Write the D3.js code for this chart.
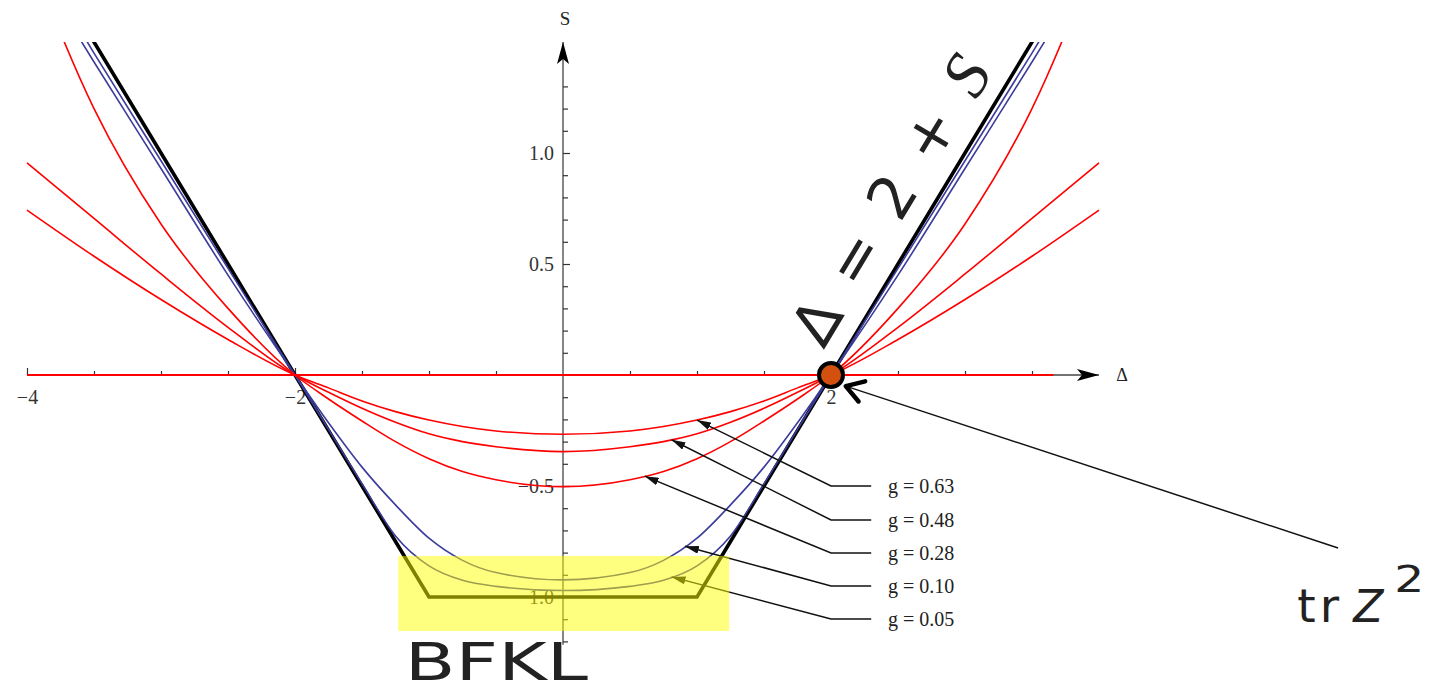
<!DOCTYPE html>
<html>
<head>
<meta charset="utf-8">
<script src="https://cdn.jsdelivr.net/npm/d3@7"></script>
<style>
  html, body { margin: 0; padding: 0; background: #fff; }
  svg { display: block; }
</style>
</head>
<body>
<svg id="chart" width="1447" height="692"></svg>
<script>
// Δ sample grid shared by every S(Δ) series
const delta = [-4, -3.5, -3, -2.5, -2, -1.75, -1.5, -1.25, -1, -0.75, -0.5, 0,
               0.5, 0.75, 1, 1.25, 1.5, 1.75, 2, 2.5, 3, 3.5, 4];

// S(Δ) at several couplings
const sG063 = [0.743, 0.535, 0.34, 0.16, 0, -0.058, -0.117, -0.165, -0.203, -0.232, -0.252, -0.267,
               -0.252, -0.232, -0.203, -0.165, -0.117, -0.058, 0, 0.16, 0.34, 0.535, 0.743];
const sG048 = [0.955, 0.705, 0.455, 0.215, 0, -0.078, -0.15, -0.213, -0.265, -0.3, -0.323, -0.345,
               -0.323, -0.3, -0.265, -0.213, -0.15, -0.078, 0, 0.215, 0.455, 0.705, 0.955];
const sG028 = [1.92, 1.2, 0.68, 0.3, 0, -0.108, -0.207, -0.3, -0.377, -0.435, -0.472, -0.503,
               -0.472, -0.435, -0.377, -0.3, -0.207, -0.108, 0, 0.3, 0.68, 1.2, 1.92];
const sG010 = [1.9, 1.41, 0.93, 0.45, 0, -0.215, -0.415, -0.585, -0.735, -0.835, -0.89, -0.923,
               -0.89, -0.835, -0.735, -0.585, -0.415, -0.215, 0, 0.45, 0.93, 1.41, 1.9];
const sG005 = [1.95, 1.45, 0.965, 0.48, 0, -0.245, -0.49, -0.725, -0.86, -0.925, -0.952, -0.971,
               -0.952, -0.925, -0.86, -0.725, -0.49, -0.245, 0, 0.48, 0.965, 1.45, 1.95];
// BFKL / weak-coupling limit: S = |Δ| - 2, floored at -1
const sBFKL = [2, 1.5, 1, 0.5, 0, -0.25, -0.5, -0.75, -1, -1, -1, -1,
               -1, -1, -1, -0.75, -0.5, -0.25, 0, 0.5, 1, 1.5, 2];
// flat S = 0 branch
const zeroDelta = [-4, 3.66];
const zeroS = [0, 0];

// axis ticks
const xTickValues = d3.range(-4, 4, 0.5).filter(v => v !== 0);
const xLabelValues = [-4, -2, 2];
const xLabelTexts = ["−4", "−2", "2"];
const yTickValues = d3.range(-12, 14).filter(v => v !== 0).map(v => v / 10);
const yLabelValues = [-1, -0.5, 0.5, 1];
const yLabelTexts = ["−1.0", "−0.5", "0.5", "1.0"];

// coupling callouts
const gLabels = ["g = 0.63", "g = 0.48", "g = 0.28", "g = 0.10", "g = 0.05"];
const gSeries = [sG063, sG048, sG028, sG010, sG005];
const gAnchorDelta = [1.0, 0.81, 0.61, 0.91, 0.81];
const gRowS = [-0.5, -0.653, -0.802, -0.95, -1.099];

const W = 1447, H = 692;
const RED = "#ff0000", BLUE = "#3c3c9c";

const x = d3.scaleLinear().domain([-4, 4]).range([27, 1099]);
const y = d3.scaleLinear().domain([-1, 1]).range([597, 153]);

const svg = d3.select("#chart");
const defs = svg.append("defs");

defs.append("clipPath").attr("id", "plot-clip")
  .append("rect")
  .attr("x", 0).attr("y", y(1.5))
  .attr("width", W).attr("height", H - y(1.5));

function arrowMarker(id, len, wid, notch, color) {
  const m = defs.append("marker")
    .attr("id", id)
    .attr("viewBox", `0 0 ${len} ${wid}`)
    .attr("refX", len).attr("refY", wid / 2)
    .attr("markerWidth", len).attr("markerHeight", wid)
    .attr("markerUnits", "userSpaceOnUse")
    .attr("orient", "auto-start-reverse");
  m.append("path")
    .attr("d", `M0,0L${len},${wid / 2}L0,${wid}L${notch},${wid / 2}Z`)
    .attr("fill", color);
}
arrowMarker("axis-head", 22, 12, 5, "#000");
arrowMarker("callout-head", 14, 8, 0, "#111");

// ---- axes ----
svg.append("line")
  .attr("x1", x(-4)).attr("x2", x(4))
  .attr("y1", y(0)).attr("y2", y(0))
  .attr("stroke", "#444").attr("stroke-width", 1.3)
  .attr("marker-end", "url(#axis-head)");
svg.append("line")
  .attr("x1", x(0)).attr("x2", x(0))
  .attr("y1", y(-1.215)).attr("y2", y(1.5))
  .attr("stroke", "#444").attr("stroke-width", 1.3)
  .attr("marker-end", "url(#axis-head)");

const gx = svg.append("g")
  .attr("transform", `translate(0,${y(0)})`)
  .call(d3.axisBottom(x)
    .tickValues(xTickValues)
    .tickSizeInner(-4).tickSizeOuter(0).tickPadding(15)
    .tickFormat(d => {
      const i = xLabelValues.indexOf(d);
      return i >= 0 ? xLabelTexts[i] : "";
    }));
gx.select(".domain").remove();
gx.selectAll(".tick line")
  .attr("stroke", "#333").attr("stroke-width", 1.2)
  .attr("y2", d => xLabelValues.includes(d) ? -7 : -4);
gx.selectAll(".tick text")
  .attr("font-family", "Liberation Serif").attr("font-size", 20).attr("fill", "#333");

const gy = svg.append("g")
  .attr("transform", `translate(${x(0)},0)`)
  .call(d3.axisLeft(y)
    .tickValues(yTickValues)
    .tickSizeInner(-5).tickSizeOuter(0).tickPadding(9)
    .tickFormat(d => {
      const i = yLabelValues.indexOf(d);
      return i >= 0 ? yLabelTexts[i] : "";
    }));
gy.select(".domain").remove();
gy.selectAll(".tick line")
  .attr("stroke", "#333").attr("stroke-width", 1.2)
  .attr("x2", d => yLabelValues.includes(d) ? 7 : 5);
gy.selectAll(".tick text")
  .attr("font-family", "Liberation Serif").attr("font-size", 20).attr("fill", "#333");

svg.append("text")
  .attr("x", x(0) + 2).attr("y", 25)
  .attr("text-anchor", "middle")
  .attr("font-family", "Liberation Serif").attr("font-size", 19).attr("fill", "#222")
  .text("S");
svg.append("text")
  .attr("x", x(4) + 23).attr("y", y(0) + 6)
  .attr("text-anchor", "middle")
  .attr("font-family", "Liberation Serif").attr("font-size", 18).attr("fill", "#222")
  .text("Δ");

// ---- curves ----
const plot = svg.append("g").attr("clip-path", "url(#plot-clip)");
const smooth = d3.line().x(d => x(d[0])).y(d => y(d[1])).curve(d3.curveMonotoneX);
const straight = d3.line().x(d => x(d[0])).y(d => y(d[1]));
const pts = s => delta.map((d, i) => [d, s[i]]);

plot.append("path")
  .attr("d", straight(pts(sBFKL)))
  .attr("fill", "none").attr("stroke", "#000").attr("stroke-width", 3.6)
  .attr("stroke-linejoin", "miter");

[sG010, sG005].forEach(s => {
  plot.append("path")
    .attr("d", smooth(pts(s)))
    .attr("fill", "none").attr("stroke", BLUE).attr("stroke-width", 1.6);
});

plot.append("path")
  .attr("d", straight(zeroDelta.map((d, i) => [d, zeroS[i]])))
  .attr("fill", "none").attr("stroke", RED).attr("stroke-width", 1.8);

[sG063, sG048, sG028].forEach(s => {
  plot.append("path")
    .attr("d", smooth(pts(s)))
    .attr("fill", "none").attr("stroke", RED).attr("stroke-width", 1.6);
});

// ---- coupling callouts ----
function sAt(series, d) {
  const i = Math.min(d3.bisectRight(delta, d) - 1, delta.length - 2);
  const t = (d - delta[i]) / (delta[i + 1] - delta[i]);
  return series[i] + t * (series[i + 1] - series[i]);
}
gLabels.forEach((label, k) => {
  const tipX = x(gAnchorDelta[k]);
  const tipY = y(sAt(gSeries[k], gAnchorDelta[k]));
  const rowY = y(gRowS[k]);
  svg.append("path")
    .attr("d", `M${tipX},${tipY}L${x(2.0)},${rowY}L${x(2.3)},${rowY}`)
    .attr("fill", "none").attr("stroke", "#111").attr("stroke-width", 1.5)
    .attr("marker-start", "url(#callout-head)");
  svg.append("text")
    .attr("x", x(2.425)).attr("y", rowY)
    .attr("dy", "0.35em")
    .attr("font-family", "Liberation Serif").attr("font-size", 20).attr("fill", "#222")
    .text(label);
});

// ---- BFKL highlight ----
svg.append("rect")
  .attr("x", x(-1.23)).attr("y", y(-0.815))
  .attr("width", x(1.24) - x(-1.23)).attr("height", y(-1.153) - y(-0.815))
  .attr("fill", "rgb(255,255,0)").attr("fill-opacity", 0.5);

svg.append("text")
  .attr("x", x(-1.18)).attr("y", y(-1.372))
  .attr("font-family", "DejaVu Sans").attr("font-size", 51).attr("fill", "#222")
  .attr("textLength", 183).attr("lengthAdjust", "spacingAndGlyphs")
  .text("BFKL");

// ---- Δ = 2 + S label along the BFKL line ----
const lineAngle = Math.atan2(y(1.5) - y(0), x(3.5) - x(2)) * 180 / Math.PI;
const lx = x(2.44), ly = y(0.79);
const eq = svg.append("text")
  .attr("transform", `translate(${lx},${ly}) rotate(${lineAngle})`)
  .attr("text-anchor", "middle").attr("dominant-baseline", "central")
  .attr("font-family", "DejaVu Sans").attr("font-size", 60).attr("fill", "#222")
  .attr("textLength", 325).attr("lengthAdjust", "spacing");
eq.append("tspan").text("∆ = 2 + ");
eq.append("tspan").attr("font-family", "Liberation Serif").attr("font-style", "italic")
  .attr("font-size", 66).text("S");

// ---- trZ² marker at the Δ = 2, S = 0 point ----
const tip = [x(2.11), y(-0.05)];
const tail = [x(5.784), y(-0.779)];
svg.append("line")
  .attr("x1", tip[0]).attr("y1", tip[1]).attr("x2", tail[0]).attr("y2", tail[1])
  .attr("stroke", "#111").attr("stroke-width", 1.5);
const ang = Math.atan2(tail[1] - tip[1], tail[0] - tip[0]);
const armLen = 20, spread = 32 * Math.PI / 180;
const a1 = [tip[0] + armLen * Math.cos(ang - spread), tip[1] + armLen * Math.sin(ang - spread)];
const a2 = [tip[0] + armLen * Math.cos(ang + spread), tip[1] + armLen * Math.sin(ang + spread)];
svg.append("path")
  .attr("d", `M${a1[0]},${a1[1]}L${tip[0]},${tip[1]}L${a2[0]},${a2[1]}`)
  .attr("fill", "none").attr("stroke", "#000").attr("stroke-width", 4.5)
  .attr("stroke-linecap", "round").attr("stroke-linejoin", "round");

svg.append("circle")
  .attr("cx", x(2)).attr("cy", y(0)).attr("r", 12)
  .attr("fill", "#d4500f").attr("stroke", "#000").attr("stroke-width", 4);

const trX = x(5.48), trY = y(-1.113);
svg.append("text")
  .attr("x", trX).attr("y", trY)
  .attr("font-family", "DejaVu Sans").attr("font-size", 47).attr("fill", "#222")
  .attr("letter-spacing", 4)
  .text("tr");
svg.append("text")
  .attr("x", trX + 56).attr("y", trY)
  .attr("font-family", "DejaVu Sans").attr("font-style", "italic")
  .attr("font-size", 44).attr("fill", "#222")
  .text("Z");
svg.append("text")
  .attr("x", trX + 97).attr("y", trY - 30)
  .attr("font-family", "DejaVu Sans").attr("font-size", 38).attr("fill", "#222")
  .attr("textLength", 30).attr("lengthAdjust", "spacingAndGlyphs")
  .text("2");
</script>
</body>
</html>
